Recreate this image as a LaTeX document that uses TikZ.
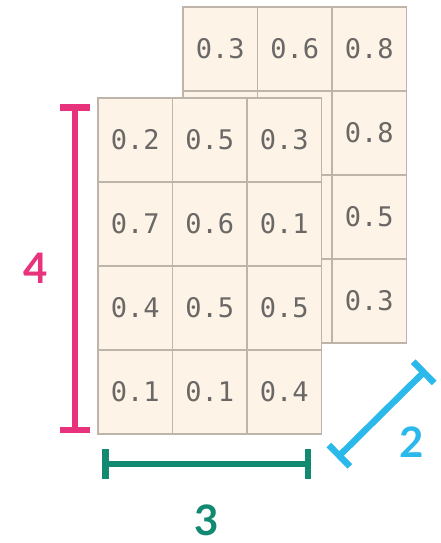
\documentclass[tikz,border=0pt]{standalone}
\usepackage{fontspec}
\newfontfamily\cellfont{DejaVu Sans Mono}
\newfontfamily\dimfont{Lato}
\usepackage{tikz}
\usetikzlibrary{arrows.meta}
\usepackage{xcolor}
\definecolor{cellfill}{HTML}{FDF3E6}
\definecolor{cellline}{HTML}{BDB5AA}
\definecolor{celltext}{HTML}{6A6866}
\definecolor{dimpink}{HTML}{E8327C}
\definecolor{dimteal}{HTML}{128A72}
\definecolor{dimcyan}{HTML}{2BB8EA}

\begin{document}
\begin{tikzpicture}[
    x=1pt, y=-1pt,
    cell/.style = {rectangle, draw=cellline, fill=cellfill, line width=1.3pt, minimum width=74.5pt, minimum height=84pt, inner sep=0pt, text=celltext, font=\cellfont\fontsize{27}{27}\selectfont},
    dimline/.style = {line width=6.5pt, {Bar[width=30pt]}-{Bar[width=30pt]}},
    dimlabel/.style = {inner sep=0pt, font=\dimfont\bfseries\fontsize{42}{42}\selectfont}
]
\useasboundingbox (0,0) rectangle (441,543);

% Back layer
\foreach \row/\vals in {0/{0.3,0.6,0.8}, 1/{{},{},0.8}, 2/{{},{},0.5}, 3/{{},{},0.3}} {
    \foreach \val [count=\col from 0] in \vals {
        \node (back-\row-\col) [cell] at (220.25+74.5*\col, 49+84*\row) {\val};
    }
}

% Front layer
\foreach \row/\vals in {0/{0.2,0.5,0.3}, 1/{0.7,0.6,0.1}, 2/{0.4,0.5,0.5}, 3/{0.1,0.1,0.4}} {
    \foreach \val [count=\col from 0] in \vals {
        \node (front-\row-\col) [cell] at (135.25+74.5*\col, 140+84*\row) {\val};
    }
}

% Dimensions
\coordinate (rows-top) at (75,104);
\coordinate (rows-bot) at (75,433);
\draw [dimline, dimpink] (rows-top) -- (rows-bot);
\node (rows-label) [dimlabel, text=dimpink] at (36,268) {4};

\coordinate (cols-left) at (102,464);
\coordinate (cols-right) at (311,464);
\draw [dimline, dimteal] (cols-left) -- (cols-right);
\node (cols-label) [dimlabel, text=dimteal] at (207,520) {3};

\coordinate (depth-near) at (337,458);
\coordinate (depth-far) at (426,370);
\draw [dimline, dimcyan] (depth-near) -- (depth-far);
\node (depth-label) [dimlabel, text=dimcyan] at (412,442) {2};

\end{tikzpicture}
\end{document}
